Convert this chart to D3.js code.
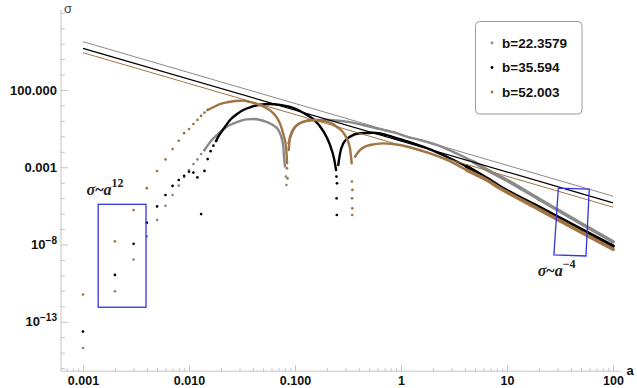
<!DOCTYPE html>
<html>
<head>
<meta charset="utf-8">
<script src="https://cdn.jsdelivr.net/npm/d3@7"></script>
<style>
  html,body{margin:0;padding:0;background:#fff;}
  svg{display:block;font-family:"Liberation Sans",Arial,sans-serif;}
</style>
</head>
<body>
<svg id="chart" width="637" height="388"></svg>
<script>
// ---- data: [a, sigma] ----
const legendLabels = ['b=22.3579', 'b=35.594', 'b=52.003'];
const colors = ['#8a8a8a', '#000000', '#a27444'];

// gray, b=22.3579
const grayDots = [[0.001,2.0e-15],[0.002,9.3e-12],[0.003,1.05e-9],[0.004,3.4e-8],[0.005,3.9e-7],[0.006,3.2e-6],
  [0.007,1.6e-5],[0.008,6.5e-5],[0.009,2.3e-4],[0.010,6.6e-4],[0.011,1.6e-3],[0.012,3.2e-3],[0.013,7.2e-3],[0.014,0.013],
  [0.082,2.5e-4],[0.083,7.1e-5]];
const grayArc1 = [[0.014,0.013],[0.0147,0.021],[0.0164,0.058],[0.0183,0.12],[0.0211,0.29],[0.0244,0.54],[0.0292,0.89],
  [0.035,1.26],[0.0404,1.32],[0.0502,1.02],[0.0603,0.60],[0.0696,0.26],[0.0749,0.074],[0.0776,0.021],[0.0788,4.8e-3],[0.0805,1.1e-3]];
const grayArc2 = [[0.0865,0.035],[0.0964,0.26],[0.1114,0.70],[0.149,1.15],[0.214,1.15],[0.307,0.89],[0.441,0.54],[0.634,0.29],
  [0.911,0.16],[1.13,0.095],[1.51,0.058],[2.17,0.028],[3.11,0.010],[4.81,2.3e-3],[7.43,4.1e-4],[8.59,2.5e-4],[20,8.7e-6],[50,2.3e-7],[100,1.5e-8]];

// black, b=35.594
const blackDots = [[0.001,2.3e-14],[0.002,1.07e-10],[0.003,1.1e-8],[0.004,2.6e-7],[0.005,2.9e-6],[0.006,1.6e-5],[0.007,6.2e-5],
  [0.008,1.5e-4],[0.009,2.8e-4],[0.010,5.1e-4],[0.011,4.5e-4],[0.012,2.2e-4],[0.013,9.3e-7],[0.014,5.8e-4],[0.015,3.4e-3],
  [0.016,0.011],[0.017,0.025],[0.018,0.050],
  [0.246,2.5e-4],[0.247,9.8e-6],[0.248,8.1e-7],[0.249,9.1e-5]];
const blackArc1 = [[0.018,0.050],[0.0189,0.095],[0.0203,0.20],[0.0219,0.42],[0.0244,1.15],[0.0282,2.7],[0.0325,5.1],[0.0391,8.3],
  [0.0468,11.2],[0.0581,12.3],[0.0722,10.9],[0.0897,8.0],[0.1037,5.6],[0.1114,4.4],[0.130,2.4],[0.149,1.32],[0.185,0.22],[0.214,0.028],
  [0.235,3.0e-3],[0.244,6.6e-4]];
const blackArc2 = [[0.256,1.4e-3],[0.266,7.9e-3],[0.2855,0.035],[0.330,0.095],[0.410,0.16],[0.548,0.17],[0.733,0.12],[0.978,0.065],
  [1.31,0.035],[1.88,0.0145],[2.70,4.8e-3],[4.17,1.1e-3],[6.43,1.9e-4],[8.59,5.5e-5],[20,2.6e-6],[50,9.5e-8],[100,7.9e-9]];

// brown, b=52.003
const brownDots = [[0.001,5.8e-12],[0.002,1.6e-8],[0.003,1.7e-6],[0.004,4.4e-5],[0.005,5.7e-4],[0.006,3.2e-3],[0.007,0.015],
  [0.008,0.052],[0.009,0.16],[0.010,0.30],[0.011,0.63],[0.012,1.15],[0.013,2.1],[0.014,3.4],[0.015,5.1],
  [0.084,8.5e-4],[0.085,1.9e-4],
  [0.344,1.2e-4],[0.345,9.8e-6],[0.346,8.1e-7],[0.347,2.2e-6],[0.348,3.4e-5]];
const brownArc1 = [[0.015,5.1],[0.0169,7.6],[0.0196,12.3],[0.0227,15.8],[0.0272,19.5],[0.0325,20.4],[0.0376,16.6],[0.0451,11.7],
  [0.0541,6.6],[0.0624,3.1],[0.0696,1.15],[0.0749,0.33],[0.0787,0.095],[0.0822,0.021],[0.0836,4.8e-3],[0.0842,1.8e-3]];
const brownArc2 = [[0.0872,0.013],[0.0897,0.095],[0.1,0.42],[0.1197,0.89],[0.1488,1.15],[0.199,0.89],[0.247,0.42],[0.296,0.12],
  [0.330,0.017],[0.3426,1.8e-3]];
const brownArc3 = [[0.368,4.8e-3],[0.410,0.013],[0.510,0.0275],[0.681,0.035],[0.978,0.0275],[1.31,0.017],[1.88,7.9e-3],[2.70,3.0e-3],
  [4.17,6.6e-4],[6.43,1.5e-4],[8.59,4.4e-5],[20,1.9e-6],[50,6.3e-8],[100,4.9e-9]];

// sigma ~ a^-2 guide lines (gray, black, brown)
const guideLines = [[[0.001,1.34e5],[100,1.34e-5]], [[0.001,5.0e4],[100,5.0e-6]], [[0.001,2.6e4],[100,2.6e-6]]];

// annotations, in data units
const box12 = [[0.00139,4.0e-6],[0.00393,8.7e-13]];
const box4 = [[30.5,4.4e-5],[59.7,3.9e-5],[55.6,1.8e-9],[27.7,2.1e-9]];
const note12 = [0.00108,1.6e-5];
const note4 = [19.5,9.1e-11];

// ticks
const xMajor = [0.001,0.01,0.1,1,10,100];
const xMajorText = ['0.001','0.010','0.100','1','10','100'];
const yMajor = [1e2,1e-3,1e-8,1e-13];
const yMajorText = ['100.000','0.001','10^\u22128','10^\u221213'];

// ---- chart ----
const svg = d3.select('#chart');
const x = d3.scaleLog().domain([1e-3,1e2]).range([83,613]);
const y = d3.scaleLog().domain([1e-13,1e2]).range([321.75,90]);
const X0 = x(6.2e-4), X1 = x(118), Y0 = y(6.3e-17), Y1 = y(1.5e7);

const xMinor = [], yMinor = [];
[1e-4,1e-3,1e-2,1e-1,1,10].forEach(p=>{ for(let d=2; d<=9; d++){ const v=d*p; if(x(v)>=X0 && x(v)<=X1) xMinor.push(v); } });
for(let e=-16; e<=7; e++) if(!yMajor.includes(Math.pow(10,e))) yMinor.push(Math.pow(10,e));

const TICK = '#c4c4c4';
function styleAxis(g){ g.select('.domain').remove(); g.selectAll('.tick line').attr('stroke',TICK); }

// x axis
svg.append('line').attr('x1',X0).attr('x2',X1).attr('y1',Y0).attr('y2',Y0).attr('stroke',TICK);
svg.append('g').attr('transform',`translate(0,${Y0})`)
  .call(d3.axisBottom(x).tickValues(xMinor).tickSize(-3).tickFormat('')).call(styleAxis);
svg.append('g').attr('transform',`translate(0,${Y0})`)
  .call(d3.axisBottom(x).tickValues(xMajor).tickSize(-6).tickPadding(4.5).tickFormat((d,i)=>xMajorText[i]))
  .call(styleAxis)
  .selectAll('text').attr('fill','#111').attr('font-size',12.5).attr('font-weight','bold');

// y axis
svg.append('line').attr('x1',X0).attr('x2',X0).attr('y1',Y0).attr('y2',Y1).attr('stroke',TICK);
svg.append('g').attr('transform',`translate(${X0},0)`)
  .call(d3.axisLeft(y).tickValues(yMinor).tickSize(-4).tickFormat('')).call(styleAxis);
const gy = svg.append('g').attr('transform',`translate(${X0},0)`)
  .call(d3.axisLeft(y).tickValues(yMajor).tickSize(-7).tickPadding(4).tickFormat((d,i)=>yMajorText[i]))
  .call(styleAxis);
gy.selectAll('text').attr('fill','#111').attr('font-size',13).attr('font-weight','bold')
  .each(function(){
    const t = d3.select(this), s = t.text();
    if(s.includes('^')){
      const [b,e] = s.split('^');
      t.text(b);
      t.append('tspan').attr('dy',-5).attr('font-size',10).text(e);
    }
  });

svg.append('text').attr('x',X0+3).attr('y',13).attr('font-size',13).attr('fill','#444').text('\u03c3');
svg.append('text').attr('x',X1+6).attr('y',Y0).attr('dy','0.32em').attr('font-size',13).attr('font-weight','bold').attr('fill','#111').text('a');

// series
const line = d3.line().x(d=>x(d[0])).y(d=>y(d[1])).curve(d3.curveMonotoneX);
const series = [
  {dots:grayDots,  arcs:[grayArc1,grayArc2]},
  {dots:blackDots, arcs:[blackArc1,blackArc2]},
  {dots:brownDots, arcs:[brownArc1,brownArc2,brownArc3]}
];
series.forEach((s,i)=>{
  const g = svg.append('g');
  g.selectAll('path.arc').data(s.arcs).join('path').attr('class','arc')
    .attr('d',line).attr('fill','none').attr('stroke',colors[i])
    .attr('stroke-width',2.4).attr('stroke-linecap','round').attr('stroke-linejoin','round');
  // dense tail: points pile up into a wider band at large a
  const tail = s.arcs[s.arcs.length-1].filter(d=>d[0]>=4);
  g.append('path').attr('d',line(tail)).attr('fill','none').attr('stroke',colors[i])
    .attr('stroke-width',3.6).attr('stroke-linecap','round');
  g.selectAll('circle').data(s.dots).join('circle')
    .attr('cx',d=>x(d[0])).attr('cy',d=>y(d[1])).attr('r',1.35).attr('fill',colors[i]);
});

// guide lines
svg.append('g').selectAll('line').data(guideLines).join('line')
  .attr('x1',d=>x(d[0][0])).attr('y1',d=>y(d[0][1])).attr('x2',d=>x(d[1][0])).attr('y2',d=>y(d[1][1]))
  .attr('stroke',(d,i)=>colors[i]).attr('stroke-width',(d,i)=>i===1?1.2:1);

// annotations
const BLUE = '#3434e0';
svg.append('rect')
  .attr('x',x(box12[0][0])).attr('y',y(box12[0][1]))
  .attr('width',x(box12[1][0])-x(box12[0][0])).attr('height',y(box12[1][1])-y(box12[0][1]))
  .attr('fill','none').attr('stroke',BLUE).attr('stroke-width',1.3);
svg.append('polygon').attr('points',box4.map(p=>[x(p[0]),y(p[1])].join(',')).join(' '))
  .attr('fill','none').attr('stroke',BLUE).attr('stroke-width',1.3);

function note(pos, exp){
  const t = svg.append('text').attr('x',x(pos[0])).attr('y',y(pos[1]))
    .attr('font-family','"Liberation Serif","Times New Roman",serif').attr('font-weight','bold')
    .attr('font-size',16).attr('fill','#222');
  t.append('tspan').attr('font-style','italic').text('\u03c3');
  t.append('tspan').text('~');
  t.append('tspan').attr('font-style','italic').text('a');
  t.append('tspan').attr('dy',-8).attr('font-size',12).text(exp);
}
note(note12,'12');
note(note4,'\u22124');

// legend
const lg = svg.append('g');
lg.append('rect').attr('x',475.5).attr('y',21.5).attr('width',106.5).attr('height',92.5).attr('rx',4)
  .attr('fill','#fff').attr('stroke','#9a9a9a');
legendLabels.forEach((t,i)=>{
  const yy = 43 + i*24.5;
  lg.append('circle').attr('cx',492).attr('cy',yy).attr('r',1.4).attr('fill',colors[i]);
  lg.append('text').attr('x',502).attr('y',yy).attr('dy','0.35em').attr('font-size',13.5)
    .attr('font-weight','bold').attr('fill','#111').text(t);
});
</script>
</body>
</html>
